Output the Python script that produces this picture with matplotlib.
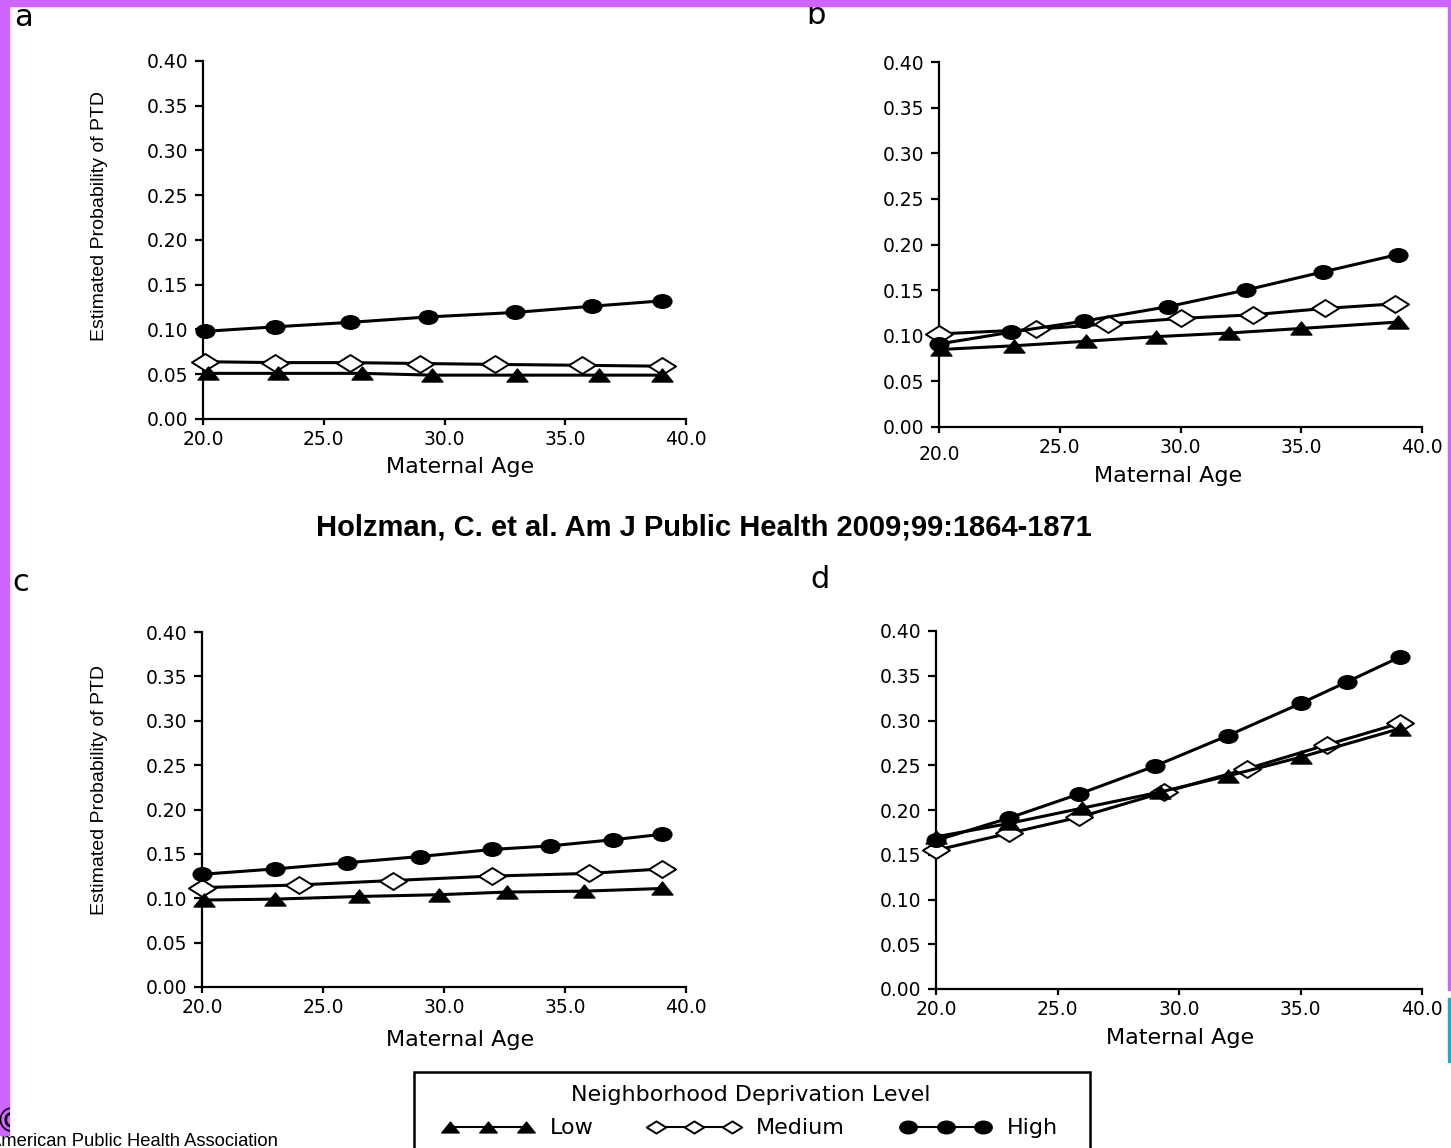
import numpy as np
import matplotlib
matplotlib.use("Agg")
import matplotlib.pyplot as plt
from matplotlib.path import Path
from matplotlib.transforms import Affine2D, ScaledTranslation
from matplotlib.lines import Line2D
from matplotlib.patches import Rectangle

# maternal age / estimated probability of PTD
a_low_x = [20.2, 23.1, 26.6, 29.5, 33.0, 36.4, 39.0]
a_low_y = [0.051, 0.051, 0.051, 0.049, 0.049, 0.049, 0.049]
a_med_x = [20.1, 23.0, 26.1, 29.0, 32.1, 35.7, 39.0]
a_med_y = [0.064, 0.063, 0.063, 0.062, 0.061, 0.060, 0.059]
a_high_x = [20.1, 23.0, 26.1, 29.3, 32.9, 36.1, 39.0]
a_high_y = [0.098, 0.103, 0.108, 0.114, 0.119, 0.126, 0.132]

b_low_x = [20.1, 23.1, 26.1, 29.0, 32.0, 35.0, 39.0]
b_low_y = [0.085, 0.089, 0.094, 0.099, 0.103, 0.108, 0.115]
b_med_x = [20.0, 24.0, 27.0, 30.0, 33.0, 36.0, 38.9]
b_med_y = [0.102, 0.107, 0.113, 0.119, 0.123, 0.130, 0.135]
b_high_x = [20.0, 23.0, 26.0, 29.5, 32.7, 35.9, 39.0]
b_high_y = [0.091, 0.104, 0.116, 0.132, 0.150, 0.170, 0.189]

c_low_x = [20.1, 23.0, 26.5, 29.8, 32.6, 35.8, 39.0]
c_low_y = [0.098, 0.099, 0.102, 0.104, 0.107, 0.108, 0.111]
c_med_x = [20.0, 24.0, 27.9, 32.0, 36.0, 39.0]
c_med_y = [0.112, 0.115, 0.120, 0.125, 0.128, 0.133]
c_high_x = [20.0, 23.0, 26.0, 29.0, 32.0, 34.4, 37.0, 39.0]
c_high_y = [0.127, 0.133, 0.140, 0.147, 0.155, 0.159, 0.166, 0.172]

d_low_x = [20.0, 23.0, 26.0, 29.2, 32.0, 35.0, 39.1]
d_low_y = [0.170, 0.185, 0.202, 0.220, 0.238, 0.259, 0.291]
d_med_x = [20.0, 23.0, 25.9, 29.4, 32.8, 36.1, 39.1]
d_med_y = [0.155, 0.174, 0.192, 0.220, 0.246, 0.273, 0.297]
d_high_x = [20.0, 23.0, 25.9, 29.0, 32.0, 35.0, 36.9, 39.1]
d_high_y = [0.166, 0.191, 0.218, 0.249, 0.283, 0.319, 0.343, 0.371]

x_ticks = [20, 25, 30, 35, 40]
y_ticks = [0.0, 0.05, 0.10, 0.15, 0.20, 0.25, 0.30, 0.35, 0.40]
levels = ["Low", "Medium", "High"]

W, H = 1451, 1148
fig = plt.figure(figsize=(W / 100, H / 100), dpi=100)

arial = ["Liberation Sans", "DejaVu Sans"]

# the original figure is stretched sideways, so the markers are wide too
tri = Path([(-0.8, -0.5), (0.8, -0.5), (0.0, 0.5), (-0.8, -0.5)], closed=True)
dia = Path([(-0.8, 0), (0, 0.5), (0.8, 0), (0, -0.5), (-0.8, 0)], closed=True)
circ = Path.unit_circle().transformed(Affine2D().scale(1.38, 1.0))

styles = {
    "Low": dict(marker=tri, mfc="black", ms=15),
    "Medium": dict(marker=dia, mfc="white", ms=19.5, mew=1.4),
    "High": dict(marker=circ, mfc="black", ms=13.5),
}

panels = [
    ("a", (203, 61, 686, 419), (a_low_x, a_low_y), (a_med_x, a_med_y), (a_high_x, a_high_y)),
    ("b", (939, 62, 1422, 427), (b_low_x, b_low_y), (b_med_x, b_med_y), (b_high_x, b_high_y)),
    ("c", (202, 632, 686, 987), (c_low_x, c_low_y), (c_med_x, c_med_y), (c_high_x, c_high_y)),
    ("d", (936, 631, 1422, 989), (d_low_x, d_low_y), (d_med_x, d_med_y), (d_high_x, d_high_y)),
]
letter_pos = {"a": (14, 17), "b": (806, 16), "c": (12, 582), "d": (810, 579)}
xlab_pos = {"a": (460, 467), "b": (1168, 476), "c": (460, 1040), "d": (1180, 1038)}
ylab_pos = {"a": (100, 216), "c": (100, 790)}

for name, (l, t, r, b), low, med, high in panels:
    ax = fig.add_axes([l / W, 1 - b / H, (r - l) / W, (b - t) / H])
    ax.set_xlim(20, 40)
    ax.set_ylim(0, 0.40)
    # medium first so the filled triangles sit on top where they cross
    for lev, (xs, ys) in (("Medium", med), ("Low", low), ("High", high)):
        ax.plot(xs, ys, color="black", lw=2.2, mec="black", clip_on=False,
                zorder=3, **styles[lev])
    for s in ("top", "right"):
        ax.spines[s].set_visible(False)
    for s in ("left", "bottom"):
        ax.spines[s].set_linewidth(1.6)
    ax.set_xticks(x_ticks)
    ax.set_xticklabels([f"{v:.1f}" for v in x_ticks])
    ax.set_yticks(y_ticks)
    ax.set_yticklabels([f"{v:.2f}" for v in y_ticks])
    ax.tick_params(axis="y", length=5.5, width=1.6, pad=5, labelsize=13.5)
    ax.tick_params(axis="x", length=4, width=1.6, pad=4, labelsize=13.5)
    if name == "b":
        lab = ax.get_xticklabels()[0]
        lab.set_transform(lab.get_transform() + ScaledTranslation(0, -5 / 72, fig.dpi_scale_trans))

    fig.text(letter_pos[name][0] / W, 1 - letter_pos[name][1] / H, name,
             fontsize=22, ha="left", va="center")
    fig.text(xlab_pos[name][0] / W, 1 - xlab_pos[name][1] / H, "Maternal Age",
             fontsize=16, ha="center", va="center")
    if name in ylab_pos:
        fig.text(ylab_pos[name][0] / W, 1 - ylab_pos[name][1] / H,
                 "Estimated Probability of PTD", rotation=90, fontsize=14,
                 family=arial, ha="center", va="center")

fig.text(704 / W, 1 - 527 / H, "Holzman, C. et al. Am J Public Health 2009;99:1864-1871",
         fontsize=21, fontweight="bold", family=arial, ha="center", va="center")

# legend: three linked markers per level, like the original key
handles = []
for lev in levels:
    st = dict(styles[lev])
    st["ms"] = {"Low": 12.5, "Medium": 14, "High": 12.5}[lev]
    handles.append(Line2D([], [], color="black", lw=1.5, mec="black", **st))
leg = fig.legend(handles, levels, loc="upper center",
                 bbox_to_anchor=(751 / W, 1 - 1085 / H), ncol=3, numpoints=3,
                 title="Neighborhood Deprivation Level", fontsize=16,
                 title_fontsize=16, handlelength=4.0, handletextpad=0.78,
                 columnspacing=2.53, borderpad=0, borderaxespad=0,
                 labelspacing=0.6, frameon=False)
# the key's box runs off the bottom of the slide
fig.patches.append(Rectangle((414 / W, -0.01), 676 / W, 1 - 1072 / H + 0.01,
                             transform=fig.transFigure, fill=False,
                             edgecolor="black", lw=1.8, zorder=5))

# page decorations from the slide this figure was cut from
purple = "#cc66ff"
fig.patches.append(Rectangle((0, 1 - 6 / H), 1, 6 / H, transform=fig.transFigure,
                             color=purple, zorder=10))
fig.patches.append(Rectangle((0, 1 - 1135 / H), 9 / W, 1135 / H, transform=fig.transFigure,
                             color=purple, zorder=10))
fig.patches.append(Rectangle((1 - 3 / W, 1 - 990 / H), 3 / W, 990 / H,
                             transform=fig.transFigure, color=purple, zorder=10))
fig.patches.append(Rectangle((1 - 3 / W, 1 - 1062 / H), 3 / W, 64 / H,
                             transform=fig.transFigure, color="#22aacc", zorder=10))

clip = Rectangle((0, 0), 10 / W, 1, transform=fig.transFigure)
cp = fig.text(-6 / W, 1 - 1123 / H, "\u00a9", fontsize=24, ha="left", va="center", zorder=11)
cp.set_clip_path(clip)
fig.text(-11 / W, 1 - 1141 / H, "American Public Health Association", fontsize=13.2,
         family=arial, ha="left", va="center")

fig.savefig("out.png", dpi=100)
